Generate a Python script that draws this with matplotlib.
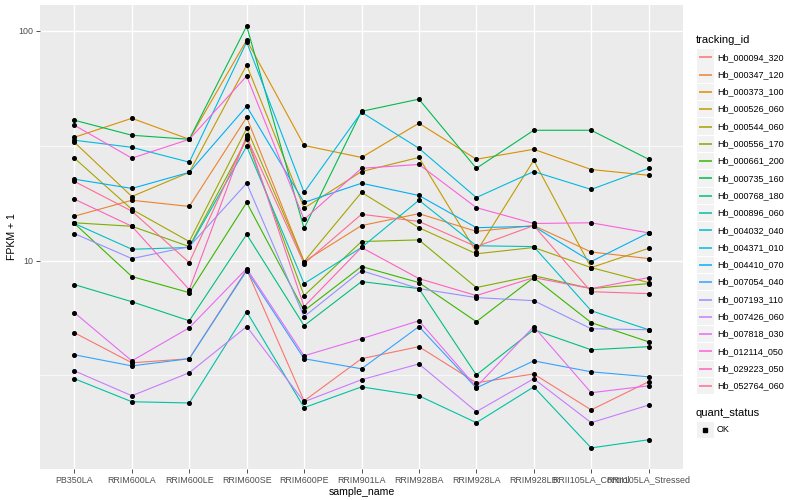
import matplotlib
matplotlib.use("Agg")
import matplotlib.pyplot as plt
from matplotlib.patches import Rectangle
from matplotlib.ticker import FixedLocator, NullFormatter
import numpy as np

plt.rcParams['font.family'] = ['Liberation Sans', 'DejaVu Sans']

sample_names = ["PB350LA", "RRIM600LA", "RRIM600LE", "RRIM600SE", "RRIM600PE",
                "RRIM901LA", "RRIM928BA", "RRIM928LA", "RRIM928LB",
                "RRII105LA_Control", "RRII105LA_Stressed"]

tracking_ids = ["Hb_000094_320", "Hb_000347_120", "Hb_000373_100", "Hb_000526_060",
                "Hb_000544_060", "Hb_000556_170", "Hb_000661_200", "Hb_000735_160",
                "Hb_000768_180", "Hb_000896_060", "Hb_004032_040", "Hb_004371_010",
                "Hb_004410_070", "Hb_007054_040", "Hb_007193_110", "Hb_007426_060",
                "Hb_007818_030", "Hb_012114_050", "Hb_029223_050", "Hb_052764_060"]

# ggplot hue palette, 20 livelli
line_colors = ["#F8766D", "#EA8331", "#D89000", "#C09B00", "#A3A500", "#7CAE00",
               "#39B600", "#00BB4E", "#00BF7D", "#00C1A3", "#00BFC4", "#00BAE0",
               "#00B0F6", "#35A2FF", "#9590FF", "#C77CFF", "#E76BF3", "#FA62DB",
               "#FF62BC", "#FF6C91"]

# FPKM + 1 per campione
hb_000094_320 = [4.85, 3.59, 3.74, 9.14, 2.45, 3.74, 4.22, 2.94, 3.21, 2.24, 2.97]
hb_000347_120 = [15.6, 18.3, 17.2, 42.0, 9.90, 14.2, 16.0, 13.4, 14.2, 10.9, 10.2]
hb_000373_100 = [34.4, 41.6, 33.7, 91.1, 31.7, 28.1, 39.6, 27.6, 30.5, 24.9, 23.5]
hb_000526_060 = [32.7, 19.0, 24.2, 70.9, 16.9, 24.4, 28.1, 10.9, 27.3, 9.32, 11.3]
hb_000544_060 = [27.9, 16.7, 12.1, 37.6, 9.90, 19.8, 13.9, 10.7, 11.4, 9.32, 8.02]
hb_000556_170 = [14.6, 14.1, 11.5, 33.7, 7.04, 12.1, 12.3, 7.63, 8.60, 7.55, 7.94]
hb_000661_200 = [14.5, 8.52, 7.25, 17.9, 6.05, 9.42, 8.02, 5.42, 8.43, 5.37, 4.43]
hb_000735_160 = [40.8, 35.1, 33.7, 104.8, 13.8, 44.6, 50.4, 25.2, 36.9, 36.9, 27.6]
hb_000768_180 = [7.86, 6.62, 5.47, 13.0, 5.21, 8.10, 7.55, 3.18, 5.00, 4.09, 4.22]
hb_000896_060 = [3.06, 2.43, 2.40, 5.99, 2.29, 2.82, 2.58, 1.97, 2.82, 1.53, 1.66]
hb_004032_040 = [14.5, 11.2, 11.4, 31.4, 7.94, 11.4, 18.3, 11.6, 11.5, 6.05, 5.00]
hb_004371_010 = [33.4, 31.1, 26.8, 89.3, 19.8, 44.2, 30.8, 18.8, 24.4, 20.4, 25.2]
hb_004410_070 = [22.6, 20.6, 24.2, 46.9, 17.9, 21.7, 19.2, 13.9, 14.1, 9.90, 13.2]
hb_007054_040 = [3.89, 3.48, 3.74, 9.04, 3.74, 3.38, 5.16, 2.79, 3.66, 3.28, 3.12]
hb_007193_110 = [13.1, 10.2, 11.5, 21.7, 5.70, 9.04, 7.55, 6.90, 6.69, 5.05, 5.00]
hb_007426_060 = [3.31, 2.58, 3.25, 5.16, 2.43, 3.03, 3.55, 2.20, 3.06, 1.97, 2.35]
hb_007818_030 = [5.93, 3.66, 5.10, 9.23, 3.85, 4.57, 5.47, 2.82, 5.16, 2.66, 2.85]
hb_012114_050 = [38.8, 27.9, 33.7, 63.5, 15.1, 25.2, 26.2, 17.0, 14.5, 14.6, 13.2]
hb_029223_050 = [18.5, 14.1, 7.47, 35.1, 6.30, 11.4, 8.35, 7.04, 8.43, 7.55, 8.43]
hb_052764_060 = [22.1, 16.4, 9.80, 34.4, 9.70, 15.9, 14.8, 11.5, 14.2, 7.32, 7.18]

series = [hb_000094_320, hb_000347_120, hb_000373_100, hb_000526_060, hb_000544_060,
          hb_000556_170, hb_000661_200, hb_000735_160, hb_000768_180, hb_000896_060,
          hb_004032_040, hb_004371_010, hb_004410_070, hb_007054_040, hb_007193_110,
          hb_007426_060, hb_007818_030, hb_012114_050, hb_029223_050, hb_052764_060]

fig = plt.figure(figsize=(8, 5), dpi=100)
ax = fig.add_axes([40 / 800, 31 / 500, 643 / 800, 464 / 500])
ax.set_facecolor("#EBEBEB")

for values, col in zip(series, line_colors):
    ax.plot(sample_names, values, color=col, lw=0.8, zorder=3)
for values in series:
    ax.plot(sample_names, values, ls="none", marker="o", ms=2.6, color="black", zorder=4)

ax.set_yscale("log")
all_vals = np.log10(np.concatenate([np.array(v) for v in series]))
lo, hi = all_vals.min(), all_vals.max()
pad = 0.05 * (hi - lo)
ax.set_ylim(10 ** (lo - pad), 10 ** (hi + pad))
ax.set_xlim(-0.6, len(sample_names) - 0.4)

ax.yaxis.set_major_locator(FixedLocator([10, 100]))
ax.set_yticklabels(["10", "100"])
ax.yaxis.set_minor_locator(FixedLocator([10 ** 0.5, 10 ** 1.5]))
ax.yaxis.set_minor_formatter(NullFormatter())

ax.grid(True, which="major", color="white", lw=1.0, zorder=0)
ax.grid(True, which="minor", axis="y", color="white", lw=0.5, zorder=0)
ax.set_axisbelow(True)
for s in ax.spines.values():
    s.set_visible(False)
ax.tick_params(which="major", length=2.7, width=0.6, color="#333333",
               labelsize=6.4, labelcolor="#4D4D4D", pad=2)
ax.tick_params(which="minor", length=0)

ax.set_xlabel("sample_name", fontsize=7.6, labelpad=2)
ax.set_ylabel("FPKM + 1", fontsize=7.6, labelpad=1)

# legenda disegnata a mano, coordinate in pixel
leg = fig.add_axes([0, 0, 1, 1])
leg.set_xlim(0, 800)
leg.set_ylim(500, 0)
leg.axis("off")

leg.text(696, 40, "tracking_id", fontsize=8, va="center", ha="left")
for i, (name, col) in enumerate(zip(tracking_ids, line_colors)):
    yc = 57.3 + i * 17.3
    leg.add_patch(Rectangle((697, yc - 8.2), 16.5, 16.4, facecolor="#F2F2F2",
                            edgecolor="none", zorder=1))
    leg.plot([698.5, 711.5], [yc, yc], color=col, lw=1.1, zorder=5,
             solid_capstyle="butt")
    leg.text(717, yc, name, fontsize=6.5, va="center", ha="left")

leg.text(696, 413, "quant_status", fontsize=8, va="center", ha="left")
leg.add_patch(Rectangle((697, 421.5), 16.5, 16.4, facecolor="#F2F2F2", edgecolor="none"))
leg.plot([705.2], [429.7], ls="none", marker="s", ms=2.6, color="black", zorder=5)
leg.text(717, 429.7, "OK", fontsize=6.5, va="center", ha="left")

fig.savefig("out.png", dpi=100, facecolor="white")
